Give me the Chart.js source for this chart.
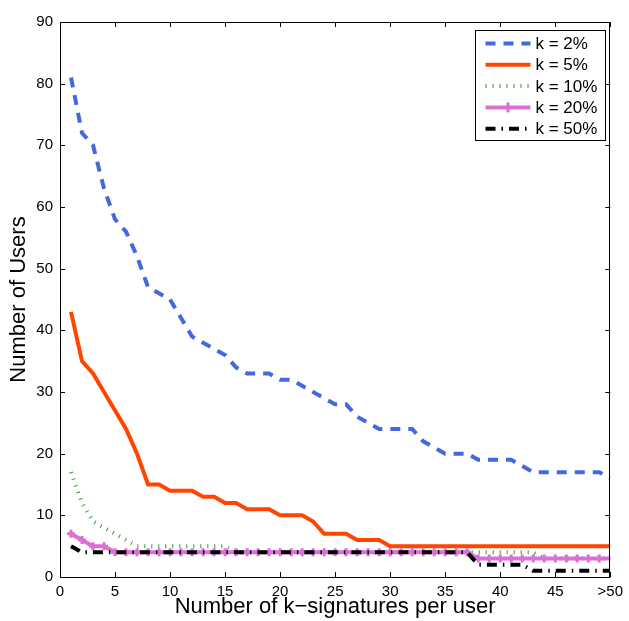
<!DOCTYPE html>
<html lang="en">
<head>
<meta charset="UTF-8">
<title>k-signatures per user</title>
<script src="https://cdn.jsdelivr.net/npm/chart.js"></script>
<style>
    html, body { margin: 0; padding: 0; background: #ffffff; }
    canvas { display: block; }
</style>
</head>
<body>
<canvas id="chart" width="629" height="621"></canvas>
<script>
    // x positions: number of k-signatures per user (50 stands for ">50")
    const kSignatures = [1, 2, 3, 4, 5, 6, 7, 8, 9, 10, 11, 12, 13, 14, 15, 16, 17, 18, 19, 20,
        21, 22, 23, 24, 25, 26, 27, 28, 29, 30, 31, 32, 33, 34, 35, 36, 37, 38, 39, 40,
        41, 42, 43, 44, 45, 46, 47, 48, 49, 50];

    // number of users
    const k2 = [81, 72, 70, 63, 58, 56, 52, 47, 46, 45, 42, 39, 38, 37, 36, 34, 33, 33, 33, 32,
        32, 31, 30, 29, 28, 28, 26, 25, 24, 24, 24, 24, 22, 21, 20, 20, 20, 19, 19, 19,
        19, 18, 17, 17, 17, 17, 17, 17, 17, 16];
    const k5 = [43, 35, 33, 30, 27, 24, 20, 15, 15, 14, 14, 14, 13, 13, 12, 12, 11, 11, 11, 10,
        10, 10, 9, 7, 7, 7, 6, 6, 6, 5, 5, 5, 5, 5, 5, 5, 5, 5, 5, 5,
        5, 5, 5, 5, 5, 5, 5, 5, 5, 5];
    const k10 = [17, 12, 9, 8, 7, 6, 5, 5, 5, 5, 5, 5, 5, 5, 5, 4, 4, 4, 4, 4,
        4, 4, 4, 4, 4, 4, 4, 4, 4, 4, 4, 4, 4, 4, 4, 4, 4, 4, 4, 4,
        4, 4, 4, 3, 3, 3, 3, 3, 3, 3];
    const k20 = [7, 6, 5, 5, 4, 4, 4, 4, 4, 4, 4, 4, 4, 4, 4, 4, 4, 4, 4, 4,
        4, 4, 4, 4, 4, 4, 4, 4, 4, 4, 4, 4, 4, 4, 4, 4, 4, 3, 3, 3,
        3, 3, 3, 3, 3, 3, 3, 3, 3, 3];
    const k50 = [5, 4, 4, 4, 4, 4, 4, 4, 4, 4, 4, 4, 4, 4, 4, 4, 4, 4, 4, 4,
        4, 4, 4, 4, 4, 4, 4, 4, 4, 4, 4, 4, 4, 4, 4, 4, 4, 2, 2, 2,
        2, 2, 1, 1, 1, 1, 1, 1, 1, 1];

    const seriesNames = ['k = 2%', 'k = 5%', 'k = 10%', 'k = 20%', 'k = 50%'];
    const xTicks = [0, 5, 10, 15, 20, 25, 30, 35, 40, 45, 50];
    const xTickLabels = ['0', '5', '10', '15', '20', '25', '30', '35', '40', '45', '>50'];
    const yTicks = [0, 10, 20, 30, 40, 50, 60, 70, 80, 90];

    const FONT = "'Liberation Sans', Arial, Helvetica, sans-serif";

    function toPoints(values) {
        return kSignatures.map((x, i) => ({ x: x, y: values[i] }));
    }

    const styles = [
        { color: '#4169e1', dash: [10, 8], width: 4 },
        { color: '#ff4500', dash: [], width: 4 },
        { color: '#2e9a2e', dash: [1, 6], width: 4 },
        { color: '#da70d6', dash: [], width: 4, marker: true },
        { color: '#000000', dash: [10, 6, 1.5, 6], width: 4 }
    ];
    const allValues = [k2, k5, k10, k20, k50];

    const datasets = allValues.map((vals, i) => ({
        label: seriesNames[i],
        data: toPoints(vals),
        borderColor: styles[i].color,
        backgroundColor: styles[i].color,
        borderWidth: styles[i].width,
        borderDash: styles[i].dash,
        borderCapStyle: 'butt',
        pointStyle: 'cross',
        pointRadius: styles[i].marker ? 4 : 0,
        pointBorderWidth: 3,
        pointBorderColor: styles[i].color,
        tension: 0,
        fill: false,
        order: 5 - i   // k = 50% drawn on top
    }));

    // box, inward ticks (MATLAB style) and the legend inside the plot
    const framePlugin = {
        id: 'frame',
        afterDatasetsDraw(chart) {
            const { ctx, chartArea: a, scales: { x, y } } = chart;
            ctx.save();
            ctx.strokeStyle = '#000';
            ctx.lineWidth = 1;
            ctx.beginPath();
            xTicks.forEach(v => {
                const px = Math.round(x.getPixelForValue(v)) + 0.5;
                ctx.moveTo(px, a.bottom); ctx.lineTo(px, a.bottom - 5);
                ctx.moveTo(px, a.top); ctx.lineTo(px, a.top + 5);
            });
            yTicks.forEach(v => {
                const py = Math.round(y.getPixelForValue(v)) + 0.5;
                ctx.moveTo(a.left, py); ctx.lineTo(a.left + 5, py);
                ctx.moveTo(a.right, py); ctx.lineTo(a.right - 5, py);
            });
            ctx.stroke();
            ctx.strokeRect(Math.round(a.left) + 0.5, Math.round(a.top) + 0.5,
                Math.round(a.right - a.left) - 1, Math.round(a.bottom - a.top));
            ctx.restore();
        },
        afterDraw(chart) {
            const { ctx, chartArea: a } = chart;
            const boxW = 130, boxH = 110;
            const bx = Math.round(a.right - 5 - boxW) + 0.5;
            const by = Math.round(a.top + 8) + 0.5;
            ctx.save();
            ctx.fillStyle = '#fff';
            ctx.fillRect(bx, by, boxW, boxH);
            ctx.strokeStyle = '#000';
            ctx.lineWidth = 1;
            ctx.strokeRect(bx, by, boxW, boxH);
            ctx.font = '17px ' + FONT;
            ctx.textBaseline = 'middle';
            seriesNames.forEach((name, i) => {
                const st = styles[i];
                const yy = by + 13 + i * 21.3;
                ctx.strokeStyle = st.color;
                ctx.lineWidth = st.width;
                ctx.lineCap = 'butt';
                ctx.setLineDash(st.dash);
                ctx.beginPath();
                ctx.moveTo(bx + 10, yy);
                ctx.lineTo(bx + 55, yy);
                ctx.stroke();
                ctx.setLineDash([]);
                if (st.marker) {
                    ctx.lineWidth = 3;
                    ctx.beginPath();
                    ctx.moveTo(bx + 32.5, yy - 5); ctx.lineTo(bx + 32.5, yy + 5);
                    ctx.stroke();
                }
                ctx.fillStyle = '#000';
                ctx.fillText(name, bx + 60, yy + 1);
            });
            ctx.restore();
        }
    };

    new Chart(document.getElementById('chart'), {
        type: 'line',
        data: { datasets: datasets },
        options: {
            responsive: false,
            animation: false,
            layout: { padding: { left: 0, top: 22, right: 17, bottom: 0 } },
            plugins: {
                legend: { display: false },
                tooltip: { enabled: false }
            },
            scales: {
                x: {
                    type: 'linear',
                    min: 0,
                    max: 50,
                    afterFit(scale) { scale.height = 44; },
                    afterBuildTicks(scale) { scale.ticks = xTicks.map(v => ({ value: v })); },
                    grid: { display: false, drawTicks: false },
                    border: { display: false },
                    ticks: {
                        padding: 6,
                        color: '#000',
                        font: { family: FONT, size: 15 },
                        maxRotation: 0,
                        autoSkip: false,
                        callback: (v) => xTickLabels[xTicks.indexOf(v)]
                    },
                    title: {
                        display: true,
                        text: 'Number of k\u2212signatures per user',
                        color: '#000',
                        font: { family: FONT, size: 22 },
                        padding: { top: 0, bottom: 1 }
                    }
                },
                y: {
                    type: 'linear',
                    min: 0,
                    max: 90,
                    afterFit(scale) { scale.width = 60; },
                    afterBuildTicks(scale) { scale.ticks = yTicks.map(v => ({ value: v })); },
                    grid: { display: false, drawTicks: false },
                    border: { display: false },
                    ticks: {
                        padding: 7,
                        color: '#000',
                        font: { family: FONT, size: 15 },
                        autoSkip: false
                    },
                    title: {
                        display: true,
                        text: 'Number of Users',
                        color: '#000',
                        font: { family: FONT, size: 22 },
                        padding: { top: 6, bottom: 0 }
                    }
                }
            }
        },
        plugins: [framePlugin]
    });
</script>
</body>
</html>
